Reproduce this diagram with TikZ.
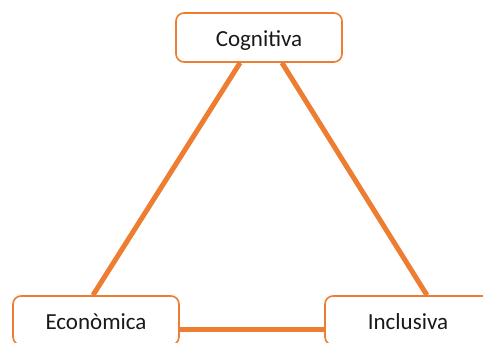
\documentclass[tikz,border=0pt]{standalone}
\usepackage{fontspec}
\setmainfont{Carlito}
\usepackage{xcolor}
\usetikzlibrary{calc}
\definecolor{accent}{HTML}{ED7D31}
\tikzset{
  Pillar/.style={
    draw=accent, line width=1.6pt, fill=white, rounded corners=8pt,
    minimum width=166pt, minimum height=49pt, text=black!90,
    text height=24pt, text depth=5pt,
    font=\fontsize{23}{27}\selectfont
  },
  Link/.style={draw=accent, line width=5pt}
}
\begin{document}
\begin{tikzpicture}[x=1pt,y=1pt]
      \useasboundingbox (0,0) rectangle (483,343);
      \node[Pillar] (C) at (259,305.5) {Cognitiva};
      \node[Pillar] (E) at (96,22.5) {Econòmica};
      \node[Pillar] (I) at (408,22.5) {Inclusiva};
      \draw[Link] ($(C.south west)!0.387!(C.south east)$) -- ($(E.north west)!0.482!(E.north east)$);
      \draw[Link] ($(C.south west)!0.637!(C.south east)$) -- ($(I.north west)!0.613!(I.north east)$);
      \draw[Link] ($(E.east)+(0,-9.5)$) -- ($(I.west)+(0,-9.5)$);
    \end{tikzpicture}
\end{document}
